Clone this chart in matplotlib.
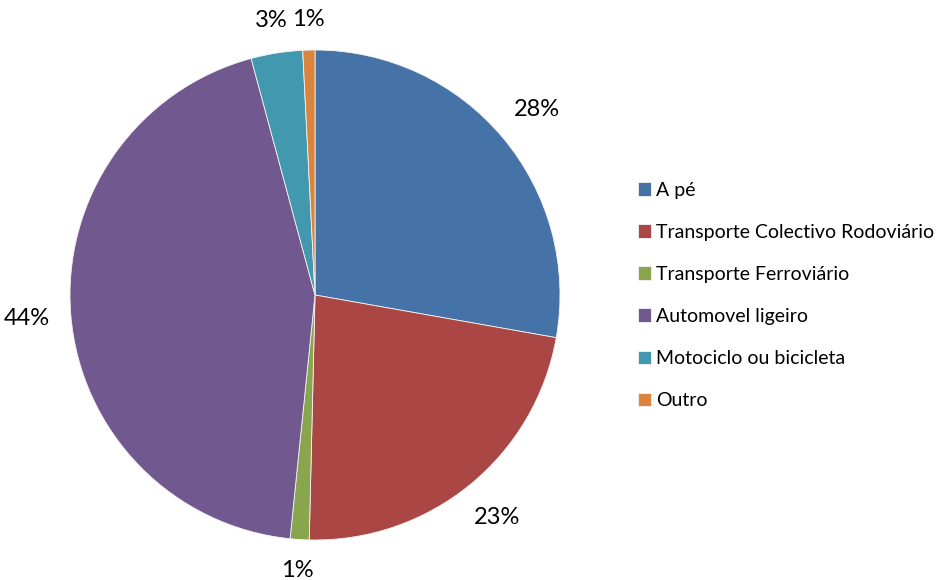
import matplotlib
matplotlib.use("Agg")
import matplotlib.pyplot as plt
import numpy as np

plt.rcParams.update({"font.family": ["Lato", "DejaVu Sans"]})

categories = ["A pé", "Transporte Colectivo Rodoviário", "Transporte Ferroviário",
              "Automovel ligeiro", "Motociclo ou bicicleta", "Outro"]
shares = [27.8, 22.6, 1.25, 44.2, 3.4, 0.8]
colors = ["#4572A7", "#AA4643", "#89A54E", "#71588F", "#4198AF", "#DB843D"]

fig = plt.figure(figsize=(9.38, 5.8), dpi=100)
ax = fig.add_axes([70 / 938, 40 / 580, 490 / 938, 490 / 580])

wedges, _, autotexts = ax.pie(
    shares, colors=colors, startangle=90, counterclock=False, radius=1,
    autopct="%.0f%%", pctdistance=1.15,
    wedgeprops=dict(edgecolor="#f4f4f4", linewidth=0.6),
    textprops=dict(fontsize=17, color="black"))
ax.set_xlim(-1, 1)
ax.set_ylim(-1, 1)
ax.set_aspect("equal")

# push each label out so its box sits a fixed gap outside the rim
fig.canvas.draw()
rend = fig.canvas.get_renderer()
r_px = 245.0
gap = 20.0
for w, t in zip(wedges, autotexts):
    ang = np.deg2rad((w.theta1 + w.theta2) / 2)
    bb = t.get_window_extent(rend)
    ext = abs(np.cos(ang)) * bb.width / 2 + abs(np.sin(ang)) * bb.height / 2
    d = (r_px + gap + ext) / r_px
    t.set_position((d * np.cos(ang), d * np.sin(ang)))

fig.legend(wedges, categories, loc="upper left",
           bbox_to_anchor=(630 / 938, 1 - 174 / 580), frameon=False,
           fontsize=14, handlelength=0.7, handleheight=0.7,
           handletextpad=0.25, labelspacing=1.29, borderaxespad=0)

fig.savefig("out.png", dpi=100, facecolor="white")
